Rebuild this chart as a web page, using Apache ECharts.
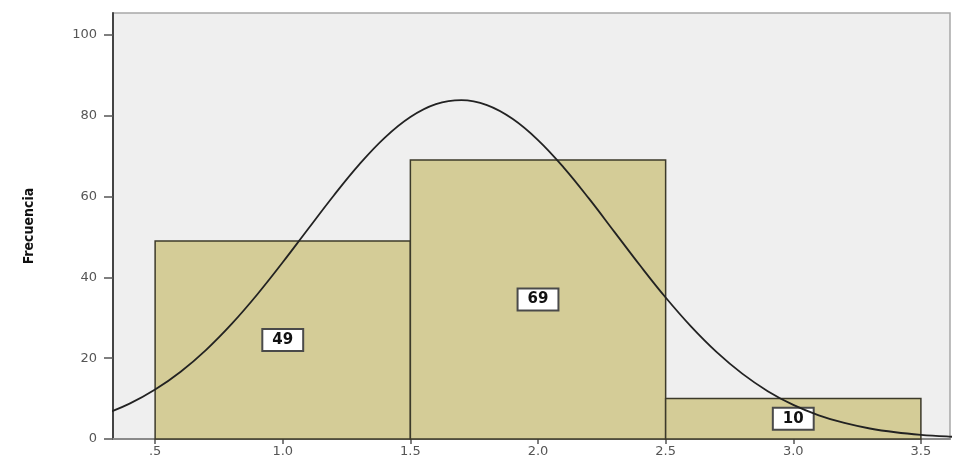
<!DOCTYPE html>
<html>
<head>
<meta charset="utf-8">
<script src="https://cdn.jsdelivr.net/npm/echarts@6/dist/echarts.min.js"></script>
<style>
  html, body { margin: 0; padding: 0; background: #ffffff; }
  #chart { width: 957px; height: 458px; }
</style>
</head>
<body>
<div id="chart"></div>
<script>
// Histogram bins (class limits) and frequencies
const binStarts = [0.5, 1.5, 2.5];
const binEnds = [1.5, 2.5, 3.5];
const counts = [49, 69, 10];

// Fitted normal curve, sampled along the x range
const curveX = [0.3, 0.4, 0.5, 0.6, 0.7, 0.8, 0.9, 1.0, 1.1, 1.2, 1.3, 1.4, 1.5, 1.6, 1.7,
                1.8, 1.9, 2.0, 2.1, 2.2, 2.3, 2.4, 2.5, 2.6, 2.7, 2.8, 2.9, 3.0, 3.1, 3.2,
                3.3, 3.4, 3.5, 3.6, 3.7];
const curveY = [6.08, 8.74, 12.23, 16.65, 22.07, 28.48, 35.76, 43.72, 52.02, 60.26, 67.95, 74.57, 79.66, 82.84, 83.85,
                82.61, 79.23, 73.97, 67.22, 59.46, 51.19, 42.91, 35.00, 27.80, 21.49, 16.17, 11.84, 8.44, 5.86, 3.96,
                2.60, 1.67, 1.04, 0.63, 0.37];

// Axis ticks
const xTicks = [0.5, 1.0, 1.5, 2.0, 2.5, 3.0, 3.5];
const xTickLabels = ['.5', '1.0', '1.5', '2.0', '2.5', '3.0', '3.5'];
const yTicks = [0, 20, 40, 60, 80, 100];

const barData = counts.map((c, i) => [binStarts[i], binEnds[i], c]);
const lineData = curveX.map((x, i) => [x, curveY[i]]);

const chart = echarts.init(document.getElementById('chart'), null, { renderer: 'canvas' });

chart.setOption({
  animation: false,
  backgroundColor: '#ffffff',
  grid: {
    left: 113, top: 13, right: 7, bottom: 19,
    show: true,
    backgroundColor: '#efefef',
    borderColor: '#a8a8a8',
    borderWidth: 1.5
  },
  xAxis: {
    type: 'value',
    min: 0.335,
    max: 3.614,
    axisLine: { show: true, lineStyle: { color: '#8a8a8a', width: 2 } },
    axisTick: { show: true, customValues: xTicks, length: 5, lineStyle: { color: '#555', width: 1.5 } },
    axisLabel: {
      customValues: xTicks,
      formatter: v => {
        const i = xTicks.findIndex(t => Math.abs(t - v) < 1e-6);
        return i >= 0 ? xTickLabels[i] : '';
      },
      color: '#555',
      fontFamily: 'DejaVu Sans',
      fontSize: 13,
      margin: 6
    },
    splitLine: { show: false }
  },
  yAxis: {
    type: 'value',
    min: 0,
    max: 105.4,
    name: 'Frecuencia',
    nameLocation: 'middle',
    nameRotate: 90,
    nameGap: 77,
    nameTextStyle: {
      fontFamily: '"DejaVu Sans Condensed", "Liberation Sans Narrow", "Liberation Sans"',
      fontWeight: 'bold',
      fontSize: 14,
      color: '#111'
    },
    axisLine: { show: true, lineStyle: { color: '#444', width: 2 } },
    axisTick: { show: true, customValues: yTicks, length: 9, lineStyle: { color: '#555', width: 1.5 } },
    axisLabel: {
      customValues: yTicks,
      color: '#555',
      fontFamily: 'DejaVu Sans',
      fontSize: 13,
      margin: 16
    },
    splitLine: { show: false }
  },
  series: [
    {
      type: 'custom',
      z: 2,
      data: barData,
      renderItem: (params, api) => {
        const x0 = api.value(0), x1 = api.value(1), v = api.value(2);
        const pTop = api.coord([x0, v]);
        const pBot = api.coord([x1, 0]);
        const mid = api.coord([(x0 + x1) / 2, v / 2]);
        return {
          type: 'group',
          children: [
            {
              type: 'rect',
              shape: { x: pTop[0], y: pTop[1], width: pBot[0] - pTop[0], height: pBot[1] - pTop[1] },
              style: { fill: '#d4cc97', stroke: '#3c3a2a', lineWidth: 1.5 }
            },
            {
              type: 'text',
              x: mid[0],
              y: mid[1],
              style: {
                text: String(v),
                align: 'center',
                verticalAlign: 'middle',
                font: 'bold 15px "DejaVu Sans", Arial',
                fill: '#111',
                backgroundColor: '#ffffff',
                borderColor: '#4a4a4a',
                borderWidth: 2,
                padding: [3, 9, 2, 9]
              }
            }
          ]
        };
      }
    },
    {
      type: 'line',
      z: 5,
      data: lineData,
      smooth: 0.4,
      showSymbol: false,
      clip: true,
      lineStyle: { color: '#222', width: 1.8 }
    }
  ]
});
</script>
</body>
</html>
